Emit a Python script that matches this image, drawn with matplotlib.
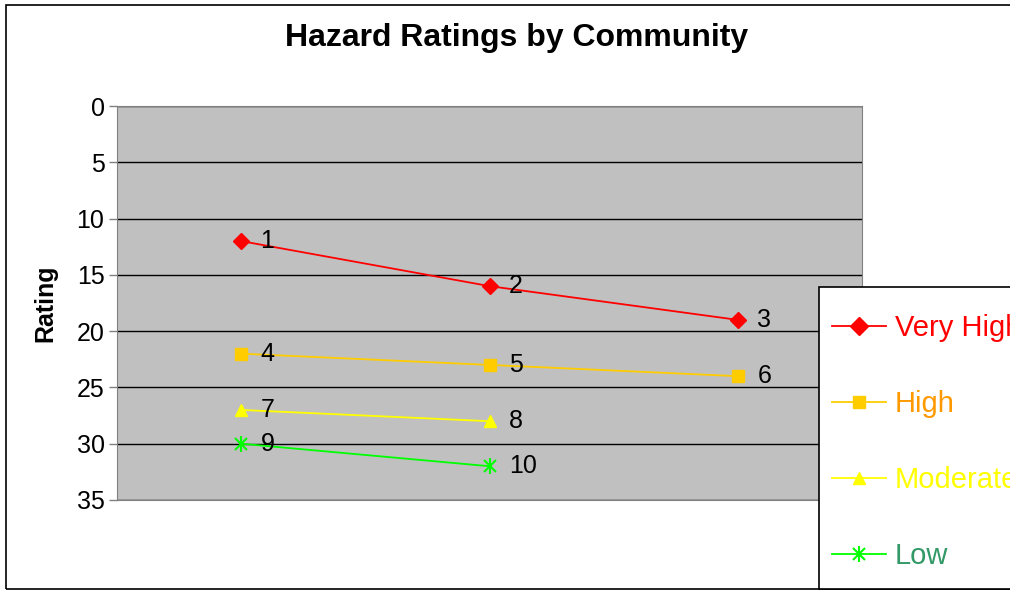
import numpy as np
import matplotlib.pyplot as plt
from matplotlib.patches import Rectangle
from matplotlib.lines import Line2D
from matplotlib.legend_handler import HandlerTuple

plt.rcParams['font.family'] = ['Liberation Sans', 'DejaVu Sans']

# podaci procitani sa slike
kategorije = [1, 2, 3]
very_high = [12, 16, 19]
high = [22, 23, 24]
moderate = [27, 28]
low = [30, 32]
oznake = [['1', '2', '3'], ['4', '5', '6'], ['7', '8'], ['9', '10']]
imena = ['Very High', 'High', 'Moderate', 'Low']

serije = [very_high, high, moderate, low]
boje_linija = ['#FF0000', '#FFCC00', '#FFFF00', '#00FF00']
boje_teksta = ['#FF0000', '#FF9900', '#FFFF00', '#339966']
markeri = ['D', 's', '^', 'x']

W, H = 1010, 592
fig = plt.figure(figsize=(W/100, H/100), dpi=100)
ax = fig.add_axes([117/W, 1 - 500/H, (862-117)/W, (500-106)/H])
ax.set_facecolor('#C0C0C0')

for i, s in enumerate(serije):
    x = kategorije[:len(s)]
    zvezda = markeri[i] == 'x'
    ax.plot(x, s, color=boje_linija[i], marker=markeri[i],
            markersize=9 if zvezda else 8,
            markeredgewidth=1.5 if zvezda else 1, lw=1.3,
            markeredgecolor=boje_linija[i], markerfacecolor=boje_linija[i])
    if zvezda:                                  # vertikalni krak zvezdice
        ax.plot(x, s, ls='none', marker='|', markersize=11,
                markeredgewidth=1.5, color=boje_linija[i])
    for xx, yy, t in zip(x, s, oznake[i]):
        ax.annotate(t, (xx, yy), xytext=(14, 0), textcoords='offset points',
                    fontsize=18, va='center', ha='left', color='black')

ax.set_xlim(0.5, 3.5)
ax.set_ylim(35, 0)
ax.set_yticks(np.arange(0, 36, 5))
ax.set_xticks([])
ax.yaxis.grid(True, color='black', lw=1)
ax.set_axisbelow(True)
ax.tick_params(axis='y', labelsize=18, length=6, width=1, color='#808080', pad=3)
for sp in ax.spines.values():
    sp.set_color('#808080')
ax.set_ylabel('Rating', fontsize=18, fontweight='bold', labelpad=14)

fig.text(517/W, 1 - 38/H, 'Hazard Ratings by Community', fontsize=23,
         fontweight='bold', ha='center', va='center')

# okvir cele slike
fig.patches.append(Rectangle((6/W, 1 - 589/H), 1.1, (589-5)/H,
                             transform=fig.transFigure, fill=False,
                             edgecolor='black', lw=1.2, zorder=0))
# okvir legende
fig.patches.append(Rectangle((819/W, 1 - 589/H), 1.1, (589-287)/H,
                             transform=fig.transFigure, facecolor='white',
                             edgecolor='black', lw=1.2, zorder=5))

# legenda
rucke = []
for i in range(4):
    l = Line2D([], [], color=boje_linija[i], marker=markeri[i],
               markersize=9, markeredgewidth=1.5 if markeri[i] == 'x' else 1,
               markeredgecolor=boje_linija[i],
               markerfacecolor=boje_linija[i], lw=1.3)
    if markeri[i] == 'x':
        l = (l, Line2D([], [], color=boje_linija[i], marker='|', markersize=11,
                       markeredgewidth=1.5, ls='none'))
    rucke.append(l)
leg = fig.legend(rucke, imena, loc='upper left',
                 bbox_to_anchor=(832/W, 1 - 314/H), fontsize=21,
                 frameon=False, handlelength=1.85, handletextpad=0.3,
                 labelspacing=1.65, borderpad=0, borderaxespad=0,
                 handler_map={tuple: HandlerTuple(ndivide=1, pad=0)})
leg.set_zorder(6)
for t, c in zip(leg.get_texts(), boje_teksta):
    t.set_color(c)

plt.savefig('out.png', dpi=100)
